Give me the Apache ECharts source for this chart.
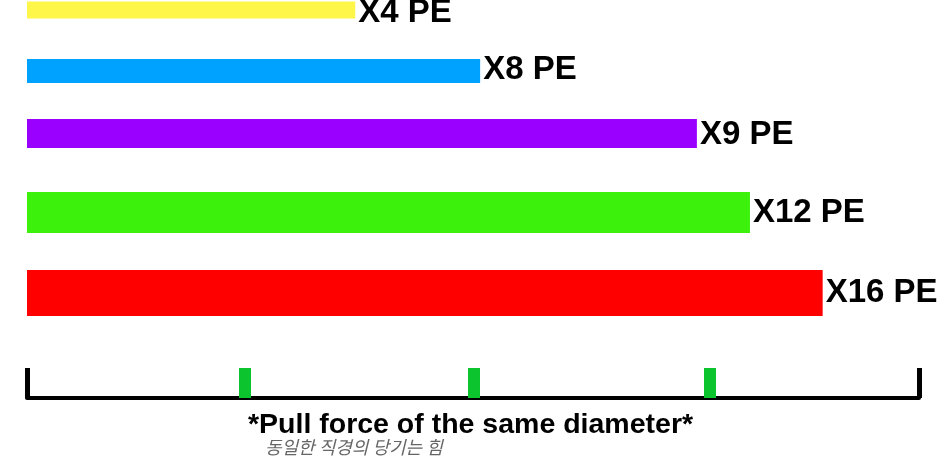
<!DOCTYPE html>
<html><head><meta charset="utf-8">
<script src="https://cdn.jsdelivr.net/npm/echarts@6/dist/echarts.min.js"></script>
<style>html,body{margin:0;padding:0;background:#fff}#c{width:950px;height:467px}</style>
</head><body><div id="c"></div>
<script>
// ---- data ----
const categories = ['X4 PE', 'X8 PE', 'X9 PE', 'X12 PE', 'X16 PE'];
const pullForce = [36.8, 50.8, 75.1, 81.05, 89.2];
const scaleMarks = [24.4, 50.1, 76.5];
const scaleEnds = [0, 100];
const titleText = '*Pull force of the same diameter*';
const subText = '동일한 직경의 당기는 힘';

// ---- styles / layout ----
const colors = ['#FFF64A', '#00A2FF', '#9900FF', '#3CF20C', '#FF0000'];
const barCenters = [10, 71, 133.5, 212.5, 293];
const barThickness = [17, 24, 29, 41, 46];
const labelShift = [3, -1, 1, 0, 0];

const grids = [], xAxes = [], yAxes = [], series = [];
categories.forEach((c, i) => {
  const slot = barThickness[i] + 2;
  grids.push({ left: 27, right: 31, top: barCenters[i] - slot / 2, height: slot });
  xAxes.push({ gridIndex: i, type: 'value', min: 0, max: 100, show: false });
  yAxes.push({ gridIndex: i, type: 'category', data: [c], show: false });
  series.push({
    type: 'bar', xAxisIndex: i, yAxisIndex: i, data: [pullForce[i]],
    barWidth: barThickness[i], silent: true,
    itemStyle: { color: colors[i] },
    label: { show: true, position: 'right', distance: 3, offset: [0, labelShift[i]], formatter: '{b}',
      color: '#000', fontSize: 33, fontWeight: 'bold', fontFamily: 'Liberation Sans' }
  });
});

// scale axis grid
const ai = categories.length;
grids.push({ left: 27, right: 31, top: 330, bottom: 69 });
yAxes.push({ gridIndex: ai, type: 'value', show: false });
xAxes.push({
  gridIndex: ai, type: 'value', min: 0, max: 100, position: 'bottom',
  axisLine: { show: true, lineStyle: { color: '#000', width: 4 } },
  axisTick: { show: true, inside: true, length: 30, customValues: scaleMarks,
    lineStyle: { color: '#0BC42E', width: 12 } },
  axisLabel: { show: false }, splitLine: { show: false }
});
xAxes.push({
  gridIndex: ai, type: 'value', min: 0, max: 100, position: 'bottom', offset: 0,
  axisLine: { show: false },
  axisTick: { show: true, inside: true, length: 30, customValues: scaleEnds,
    lineStyle: { color: '#000', width: 5 } },
  axisLabel: { show: false }, splitLine: { show: false }
});

const chart = echarts.init(document.getElementById('c'), null, { renderer: 'canvas' });
chart.setOption({
  animation: false,
  backgroundColor: '#fff',
  title: [
    { text: titleText, left: 248, top: 411, padding: 0,
      textStyle: { fontSize: 28.5, fontWeight: 'bold', color: '#000', fontFamily: 'Liberation Sans', lineHeight: 28 } },
    { text: subText, left: 265, top: 438, padding: 0,
      textStyle: { fontSize: 18, fontWeight: 'normal', fontStyle: 'italic', color: '#666', fontFamily: 'Noto Sans CJK KR', lineHeight: 19 } }
  ],
  grid: grids, xAxis: xAxes, yAxis: yAxes, series: series
});
</script></body></html>
